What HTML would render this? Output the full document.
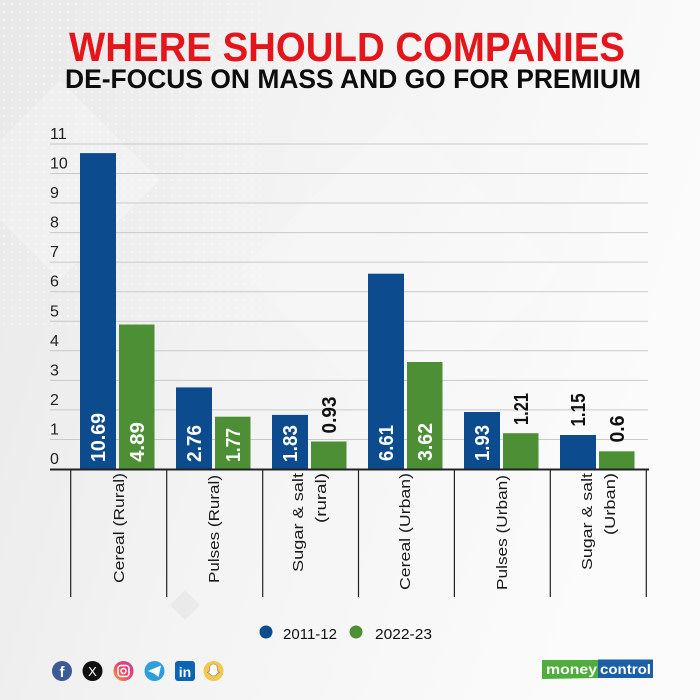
<!DOCTYPE html>
<html>
<head>
<meta charset="utf-8">
<style>
  html,body{margin:0;padding:0;}
  body{width:700px;height:700px;overflow:hidden;background:#f4f4f4;}
  svg{display:block;}
</style>
</head>
<body>
<svg width="700" height="700" viewBox="0 0 700 700" xmlns="http://www.w3.org/2000/svg">
  <defs>
    <linearGradient id="bg" x1="0" y1="0" x2="1" y2="0.3">
      <stop offset="0" stop-color="#e8e8e8"/>
      <stop offset="0.45" stop-color="#f3f3f3"/>
      <stop offset="1" stop-color="#fbfbfb"/>
    </linearGradient>
    <pattern id="dots" width="8" height="8" patternUnits="userSpaceOnUse">
      <circle cx="4" cy="4" r="1.3" fill="#ffffff" opacity="0.7"/>
    </pattern>
    <linearGradient id="ig" x1="0" y1="1" x2="1" y2="0">
      <stop offset="0" stop-color="#f9a23a"/>
      <stop offset="0.5" stop-color="#e8456b"/>
      <stop offset="1" stop-color="#c23ea0"/>
    </linearGradient>
  </defs>
  <rect x="0" y="0" width="700" height="700" fill="url(#bg)"/>
  <rect x="0" y="0" width="260" height="330" fill="url(#dots)" opacity="0.6"/>
  <!-- faint diamonds -->
  <polygon points="60,80 160,180 60,280 -40,180" fill="#ffffff" opacity="0.25"/>
  <polygon points="400,110 560,270 400,430 240,270" fill="#ffffff" opacity="0.18"/>
  <polygon points="185,590 200,605 185,620 170,605" fill="#e2e2e2" opacity="0.5"/>

  <!-- Title -->
  <text x="69" y="61" font-family="'Liberation Sans', sans-serif" font-weight="bold" font-size="40.5" fill="#e5151c" textLength="556" lengthAdjust="spacingAndGlyphs">WHERE SHOULD COMPANIES</text>
  <text x="65" y="88" font-family="'Liberation Sans', sans-serif" font-weight="bold" font-size="26.5" fill="#0d0d0d" textLength="576" lengthAdjust="spacingAndGlyphs">DE-FOCUS ON MASS AND GO FOR PREMIUM</text>

  <!-- Gridlines -->
  <g stroke="#c9c9c9" stroke-width="1">
    <line x1="50" y1="439.45" x2="648" y2="439.45"/>
    <line x1="50" y1="409.9" x2="648" y2="409.9"/>
    <line x1="50" y1="380.35" x2="648" y2="380.35"/>
    <line x1="50" y1="350.8" x2="648" y2="350.8"/>
    <line x1="50" y1="321.25" x2="648" y2="321.25"/>
    <line x1="50" y1="291.7" x2="648" y2="291.7"/>
    <line x1="50" y1="262.15" x2="648" y2="262.15"/>
    <line x1="50" y1="232.6" x2="648" y2="232.6"/>
    <line x1="50" y1="203.05" x2="648" y2="203.05"/>
    <line x1="50" y1="173.5" x2="648" y2="173.5"/>
    <line x1="50" y1="143.95" x2="648" y2="143.95"/>
  </g>

  <!-- Y labels -->
  <g font-family="'Liberation Sans', sans-serif" font-size="16" fill="#222">
    <text x="50" y="464">0</text>
    <text x="50" y="434.5">1</text>
    <text x="50" y="405">2</text>
    <text x="50" y="375.4">3</text>
    <text x="50" y="345.8">4</text>
    <text x="50" y="316.3">5</text>
    <text x="50" y="286.7">6</text>
    <text x="50" y="257.2">7</text>
    <text x="50" y="227.6">8</text>
    <text x="50" y="198">9</text>
    <text x="50" y="168.5">10</text>
    <text x="50" y="139">11</text>
  </g>

  <!-- Bars -->
  <g fill="#0b4b8e">
    <rect x="80" y="153.1" width="36" height="315.9"/>
    <rect x="176" y="387.4" width="36" height="81.6"/>
    <rect x="272" y="414.9" width="36" height="54.1"/>
    <rect x="368" y="273.7" width="36" height="195.3"/>
    <rect x="464" y="412" width="36" height="57"/>
    <rect x="560" y="435" width="36" height="34"/>
  </g>
  <g fill="#4c8f34">
    <rect x="119" y="324.5" width="35.5" height="144.5"/>
    <rect x="215" y="416.7" width="35.5" height="52.3"/>
    <rect x="311" y="441.5" width="35.5" height="27.5"/>
    <rect x="407" y="362" width="35.5" height="107"/>
    <rect x="503" y="433.2" width="35.5" height="35.8"/>
    <rect x="599" y="451.3" width="35.5" height="17.7"/>
  </g>

  <!-- Baseline and ticks -->
  <line x1="50" y1="469.5" x2="649" y2="469.5" stroke="#222" stroke-width="2"/>
  <g stroke="#222" stroke-width="1.2">
    <line x1="70.7" y1="469" x2="70.7" y2="597"/>
    <line x1="166.7" y1="469" x2="166.7" y2="597"/>
    <line x1="262.7" y1="469" x2="262.7" y2="597"/>
    <line x1="358.5" y1="469" x2="358.5" y2="597"/>
    <line x1="454.4" y1="469" x2="454.4" y2="597"/>
    <line x1="550.3" y1="469" x2="550.3" y2="597"/>
    <line x1="646.3" y1="469" x2="646.3" y2="597"/>
  </g>

  <!-- Value labels inside bars (white) -->
  <g font-family="'Liberation Sans', sans-serif" font-weight="bold" font-size="20" fill="#ffffff">
    <text transform="translate(105,462) rotate(-90)" textLength="49" lengthAdjust="spacingAndGlyphs">10.69</text>
    <text transform="translate(144,462) rotate(-90)" textLength="40" lengthAdjust="spacingAndGlyphs">4.89</text>
    <text transform="translate(201,462) rotate(-90)" textLength="37" lengthAdjust="spacingAndGlyphs">2.76</text>
    <text transform="translate(240,462) rotate(-90)" textLength="34" lengthAdjust="spacingAndGlyphs">1.77</text>
    <text transform="translate(297,462) rotate(-90)" textLength="37" lengthAdjust="spacingAndGlyphs">1.83</text>
    <text transform="translate(393,461) rotate(-90)" textLength="36" lengthAdjust="spacingAndGlyphs">6.61</text>
    <text transform="translate(432,461) rotate(-90)" textLength="38" lengthAdjust="spacingAndGlyphs">3.62</text>
    <text transform="translate(489,461) rotate(-90)" textLength="36" lengthAdjust="spacingAndGlyphs">1.93</text>
  </g>
  <!-- Value labels above bars (black) -->
  <g font-family="'Liberation Sans', sans-serif" font-weight="bold" font-size="20" fill="#111">
    <text transform="translate(336,433.5) rotate(-90)" textLength="37" lengthAdjust="spacingAndGlyphs">0.93</text>
    <text transform="translate(528,425) rotate(-90)" textLength="32" lengthAdjust="spacingAndGlyphs">1.21</text>
    <text transform="translate(585,426.5) rotate(-90)" textLength="33" lengthAdjust="spacingAndGlyphs">1.15</text>
    <text transform="translate(624,442.5) rotate(-90)" textLength="27" lengthAdjust="spacingAndGlyphs">0.6</text>
  </g>

  <!-- Category labels -->
  <g font-family="'Liberation Sans', sans-serif" font-size="15" fill="#1a1a1a" text-anchor="end">
    <text transform="translate(124,473) rotate(-90)" textLength="110" lengthAdjust="spacingAndGlyphs">Cereal (Rural)</text>
    <text transform="translate(219,475) rotate(-90)" textLength="108" lengthAdjust="spacingAndGlyphs">Pulses (Rural)</text>
    <text transform="translate(303,473) rotate(-90)" textLength="99" lengthAdjust="spacingAndGlyphs">Sugar &amp; salt</text>
    <text transform="translate(326,473) rotate(-90)" textLength="50" lengthAdjust="spacingAndGlyphs">(rural)</text>
    <text transform="translate(410,473) rotate(-90)" textLength="117" lengthAdjust="spacingAndGlyphs">Cereal (Urban)</text>
    <text transform="translate(507,475) rotate(-90)" textLength="115" lengthAdjust="spacingAndGlyphs">Pulses (Urban)</text>
    <text transform="translate(592,473) rotate(-90)" textLength="97" lengthAdjust="spacingAndGlyphs">Sugar &amp; salt</text>
    <text transform="translate(615,473) rotate(-90)" textLength="62" lengthAdjust="spacingAndGlyphs">(Urban)</text>
  </g>

  <!-- Legend -->
  <circle cx="266" cy="632" r="6.5" fill="#0b4b8e"/>
  <text x="283" y="639" font-family="'Liberation Sans', sans-serif" font-size="15" fill="#111" textLength="54" lengthAdjust="spacingAndGlyphs">2011-12</text>
  <circle cx="356" cy="632" r="6.5" fill="#4c8f34"/>
  <text x="375" y="639" font-family="'Liberation Sans', sans-serif" font-size="15" fill="#111" textLength="57" lengthAdjust="spacingAndGlyphs">2022-23</text>

  <!-- Social icons -->
  <circle cx="62" cy="671" r="10" fill="#3d5a98"/>
  <text x="62" y="677" font-family="'Liberation Sans', sans-serif" font-weight="bold" font-size="15" fill="#fff" text-anchor="middle">f</text>
  <circle cx="92.5" cy="671" r="10" fill="#111"/>
  <text x="92.5" y="676" font-family="'Liberation Sans', sans-serif" font-size="13" fill="#fff" text-anchor="middle">X</text>
  <circle cx="123.5" cy="671" r="10" fill="url(#ig)"/>
  <rect x="118" y="665.5" width="11" height="11" rx="3" fill="none" stroke="#fff" stroke-width="1.5"/>
  <circle cx="123.5" cy="671" r="2.5" fill="none" stroke="#fff" stroke-width="1.4"/>
  <circle cx="154.5" cy="671" r="10" fill="#2e9fdc"/>
  <polygon points="148,671 161,665.5 158.5,677 154,673.5" fill="#fff"/>
  <rect x="175" y="661" width="20" height="20" rx="3" fill="#0a66b5"/>
  <text x="185" y="677" font-family="'Liberation Sans', sans-serif" font-weight="bold" font-size="14" fill="#fff" text-anchor="middle">in</text>
  <circle cx="213.5" cy="671" r="10" fill="#f2c94c"/>
  <path d="M213.5,664 c-3,0 -4,2.5 -4,5 l0,2 -2,1.5 2,0.8 c1,2 2.5,2.7 4,2.7 s3,-0.7 4,-2.7 l2,-0.8 -2,-1.5 0,-2 c0,-2.5 -1,-5 -4,-5z" fill="#fff" stroke="#777" stroke-width="0.6"/>

  <!-- moneycontrol logo -->
  <polygon points="542,660 599,660 599,678 542,679" fill="#4fae3b"/>
  <rect x="598" y="659.5" width="55" height="18.5" fill="#1a5fa8"/>
  <text x="546" y="674" font-family="'Liberation Sans', sans-serif" font-weight="bold" font-size="14" fill="#fff" textLength="51" lengthAdjust="spacingAndGlyphs">money</text>
  <text x="600" y="674" font-family="'Liberation Sans', sans-serif" font-weight="bold" font-size="14" fill="#fff" textLength="51" lengthAdjust="spacingAndGlyphs">control</text>
</svg>
</body>
</html>
